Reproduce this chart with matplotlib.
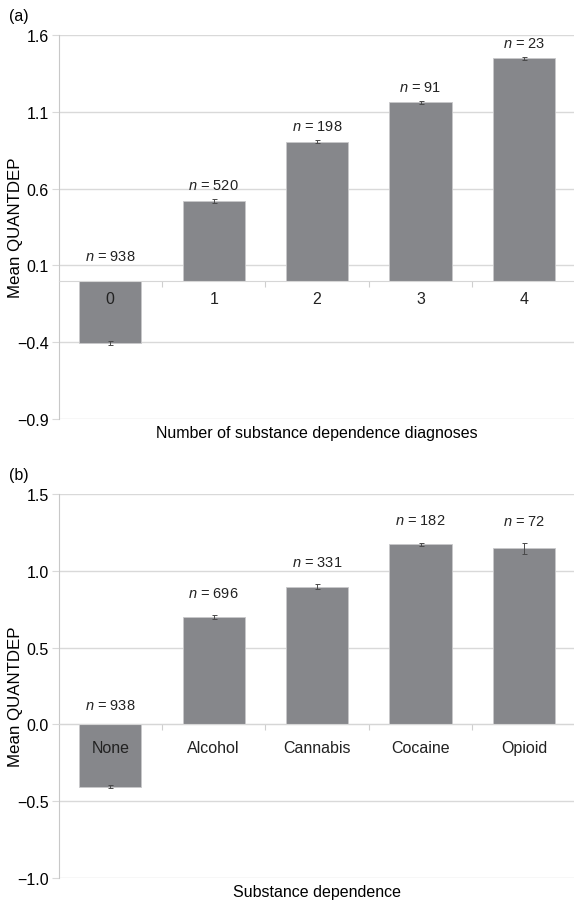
import numpy as np
import matplotlib.pyplot as plt

plt.rcParams['font.family'] = ['Liberation Sans', 'DejaVu Sans']
plt.rcParams['mathtext.fontset'] = 'custom'
plt.rcParams['mathtext.it'] = 'Liberation Sans:italic'
plt.rcParams['mathtext.rm'] = 'Liberation Sans'

# panel (a)
cats_a = ['0', '1', '2', '3', '4']
means_a = [-0.405, 0.52, 0.905, 1.163, 1.448]
errs_a = [0.015, 0.012, 0.01, 0.01, 0.012]
n_a = [938, 520, 198, 91, 23]
yticks_a = [-0.9, -0.4, 0.1, 0.6, 1.1, 1.6]

# panel (b)
cats_b = ['None', 'Alcohol', 'Cannabis', 'Cocaine', 'Opioid']
means_b = [-0.405, 0.70, 0.897, 1.172, 1.146]
errs_b = [0.012, 0.014, 0.015, 0.012, 0.035]
n_b = [938, 696, 331, 182, 72]
yticks_b = [-1.0, -0.5, 0.0, 0.5, 1.0, 1.5]

W, H = 574, 903
fig = plt.figure(figsize=(W / 100, H / 100), dpi=100)

bar_col = '#86878b'
grid_col = '#d9d9d9'
fs = 11.5


def panel(rect, cats, means, errs, ns, yticks, xlabel, tag, n_off, n_off0, lab_off, ylab_y):
    ax = fig.add_axes(rect)
    x = np.arange(len(cats))
    ax.bar(x, means, width=0.6, color=bar_col, edgecolor='#c9c9cb', linewidth=0.6, zorder=2)
    ax.errorbar(x, means, yerr=errs, fmt='none', ecolor='#4a4a4a', elinewidth=0.7,
                capsize=1.8, capthick=0.7, zorder=3)
    ax.set_xlim(-0.5, len(cats) - 0.5)
    ax.set_ylim(yticks[0], yticks[-1])
    ax.set_yticks(yticks)
    ax.set_yticklabels(['%.1f' % t if t >= 0 else '\u2212%.1f' % -t for t in yticks])
    ax.tick_params(axis='y', length=5, color=grid_col, labelsize=fs, pad=2)
    ax.yaxis.grid(True, color=grid_col, linewidth=1.0)
    ax.set_axisbelow(True)
    for s in ['top', 'right']:
        ax.spines[s].set_visible(False)
    ax.spines['left'].set_color('#c8c8c8')
    ax.spines['bottom'].set_position(('data', 0))
    ax.spines['bottom'].set_color('#d6d6d6')
    ax.set_xticks(np.arange(len(cats) - 1) + 0.5)
    ax.set_xticklabels([])
    ax.tick_params(axis='x', direction='out', length=4, color='#cfcfcf')

    for i, c in enumerate(cats):
        ax.annotate(c, (i, 0), xytext=(0, -lab_off), textcoords='offset points',
                    ha='center', va='center', fontsize=fs, color='#222222', zorder=5)
    for i, (m, e, n) in enumerate(zip(means, errs, ns)):
        top = max(m, 0) + (e if m > 0 else 0)
        off = n_off if m > 0 else n_off0
        ax.annotate('$n$ = %d' % n, (i, top), xytext=(0, off), textcoords='offset points',
                    ha='center', va='center', fontsize=10.5, color='#222222')

    ax.set_ylabel('Mean QUANTDEP', fontsize=12.2)
    ax.yaxis.set_label_coords(-0.069, ylab_y)
    ax.text(0.5, -0.034, xlabel, transform=ax.transAxes, ha='center', va='center', fontsize=fs)
    fig.text(9 / W, rect[1] + rect[3] + 19 / H, tag, ha='left', va='center', fontsize=fs)
    return ax


left = 58.6 / W
width = 517 / W
panel([left, (H - 420) / H, width, 384 / H], cats_a, means_a, errs_a, n_a, yticks_a,
      'Number of substance dependence diagnoses', '(a)', 10, 18, 13, 0.5)
panel([left, (H - 879) / H, width, 384 / H], cats_b, means_b, errs_b, n_b, yticks_b,
      'Substance dependence', '(b)', 16, 14, 16.5, 0.474)

fig.savefig('out.png', dpi=100)
